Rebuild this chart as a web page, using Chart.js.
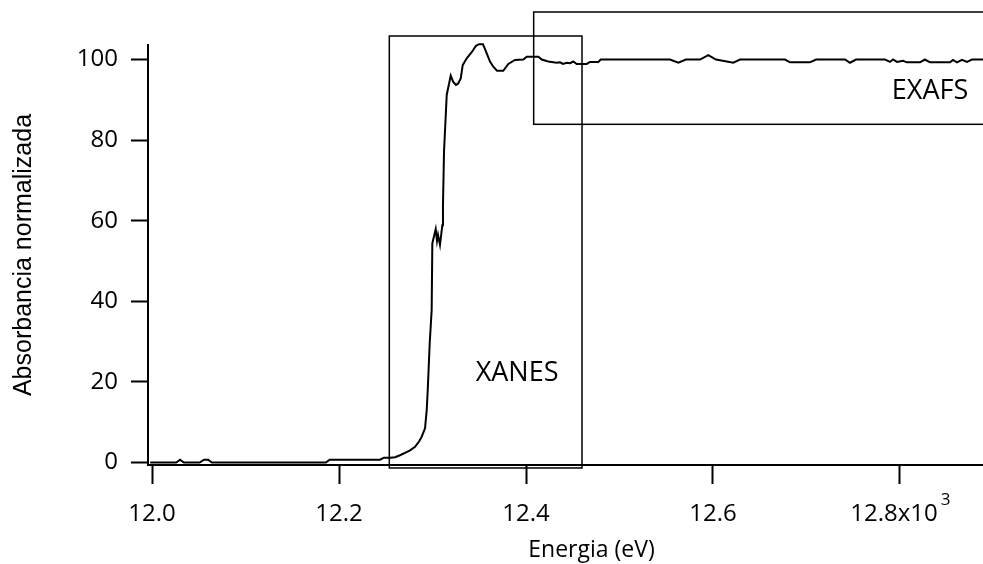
<!DOCTYPE html>
<html>
<head>
<meta charset="utf-8">
<script src="https://cdn.jsdelivr.net/npm/chart.js@4"></script>
<style>
  html, body { margin: 0; padding: 0; background: #ffffff; overflow: hidden; }
  #wrap { width: 983px; height: 564px; overflow: hidden; position: relative; }
  canvas { display: block; }
</style>
</head>
<body>
<div id="wrap"><canvas id="c" width="1035" height="564"></canvas></div>
<script>
// Energy in units of 10^3 eV
const energy = [
  11.998, 12.019, 12.026, 12.030, 12.034, 12.051, 12.0556, 12.060, 12.064, 12.186,
  12.190, 12.244, 12.248, 12.2545, 12.260, 12.2652, 12.2706, 12.276, 12.2813, 12.2856,
  12.2884, 12.292, 12.2938, 12.2949, 12.297, 12.2991, 12.2998, 12.3034, 12.3048, 12.3059,
  12.308, 12.3105, 12.3112, 12.3123, 12.3152, 12.3195, 12.322, 12.3251, 12.3273, 12.3302,
  12.3323, 12.3366, 12.3419, 12.3465, 12.3497, 12.354, 12.358, 12.3615, 12.365, 12.369,
  12.3757, 12.3811, 12.3882, 12.3971, 12.4008, 12.4132, 12.4168, 12.4238, 12.4328, 12.4364,
  12.4396, 12.4435, 12.447, 12.4506, 12.4542, 12.4649, 12.4684, 12.4773, 12.4799, 12.554,
  12.5629, 12.571, 12.5861, 12.595, 12.6032, 12.6217, 12.6289, 12.677, 12.6824, 12.7037,
  12.7102, 12.7412, 12.7465, 12.753, 12.784, 12.7893, 12.7925, 12.7968, 12.8032, 12.8075,
  12.8214, 12.8267, 12.8321, 12.8535, 12.8567, 12.861, 12.8663, 12.8717, 12.877, 12.889
];
const absorbance = [
  0, 0, 0, 0.7, 0, 0, 0.7, 0.7, 0, 0,
  0.7, 0.7, 1.2, 1.2, 1.3, 1.8, 2.4, 3.0, 3.9, 5.2,
  6.4, 8.5, 13, 18, 29.6, 37.8, 54.4, 57.9, 55, 56.5,
  54, 58.9, 64, 77.1, 91.2, 96, 94.5, 93.7, 94, 95.3,
  98.6, 100.3, 101.8, 103.4, 103.8, 103.8, 101.5, 99.5, 98.2, 97.2,
  97.2, 98.9, 99.9, 100, 100.7, 100.7, 100, 99.5, 99.2, 99.3,
  98.9, 99.2, 99.1, 99.5, 98.9, 98.9, 99.4, 99.4, 100, 100,
  99.2, 100, 100, 101.1, 100, 99.2, 100, 100, 99.3, 99.3,
  100, 100, 99.2, 100, 100, 99.4, 100, 99.4, 99.7, 99.3,
  99.3, 100, 99.3, 99.3, 99.9, 99.3, 99.9, 99.4, 100, 100
];

const xTickValues = [12.0, 12.2, 12.4, 12.6, 12.8];
const xTickLabels = ['12.0', '12.2', '12.4', '12.6', '12.8x10'];
const xTickExponent = '3';   // superscript on the last x tick label (x10^3)
const yTickValues = [0, 20, 40, 60, 80, 100];
const yTickLabels = ['0', '20', '40', '60', '80', '100'];

// Region boxes in data units: [xStart, xEnd, yBottom, yTop]
const regionNames = ['XANES', 'EXAFS'];
const regionBounds = [
  [12.2538, 12.4599, -1.36, 105.83],
  [12.4082, 12.95, 83.92, 111.79]
];
// Label anchor (center x, baseline y) in data units
const regionLabelPos = [
  [12.3904, 20.2],
  [12.8321, 90.1]
];

const xTitle = 'Energia (eV)';
const yTitle = 'Absorbancia normalizada';

const points = energy.map((e, i) => ({ x: e, y: absorbance[i] }));
const TICK_FONT = '24px "Open Sans"';
const EXP_FONT = '17px "Open Sans"';
const EXP_GAP = 3;
const EXP_PAD = '\u2002'; // room reserved after the last label for its exponent

const regionPlugin = {
  id: 'regions',
  afterDatasetsDraw(chart) {
    const ctx = chart.ctx;
    const xs = chart.scales.x, ys = chart.scales.y;
    ctx.save();
    ctx.strokeStyle = '#000';
    ctx.lineWidth = 1.5;
    regionBounds.forEach(b => {
      const x1 = xs.getPixelForValue(b[0]);
      const x2 = xs.getPixelForValue(b[1]);
      const y1 = ys.getPixelForValue(b[3]);
      const y2 = ys.getPixelForValue(b[2]);
      ctx.strokeRect(x1, y1, x2 - x1, y2 - y1);
    });
    ctx.fillStyle = '#000';
    ctx.font = '27px "Open Sans"';
    ctx.textAlign = 'center';
    ctx.textBaseline = 'alphabetic';
    regionNames.forEach((n, i) => {
      ctx.fillText(n, xs.getPixelForValue(regionLabelPos[i][0]), ys.getPixelForValue(regionLabelPos[i][1]));
    });
    ctx.restore();
  },
  afterDraw(chart) {
    // superscript exponent after the last x tick label
    const ctx = chart.ctx;
    const xs = chart.scales.x;
    const last = xTickValues.length - 1;
    const px = xs.getPixelForValue(xTickValues[last]);
    ctx.save();
    ctx.font = TICK_FONT;
    const wLabel = ctx.measureText(xTickLabels[last]).width;
    const wFull = ctx.measureText(xTickLabels[last] + EXP_PAD).width;
    const visibleRight = px - wFull / 2 + wLabel;
    ctx.font = EXP_FONT;
    ctx.fillStyle = '#000';
    ctx.textAlign = 'left';
    ctx.textBaseline = 'alphabetic';
    ctx.fillText(xTickExponent, visibleRight + EXP_GAP, xs.top + 40);
    ctx.restore();
  }
};

new Chart(document.getElementById('c'), {
  type: 'line',
  data: {
    datasets: [{
      data: points,
      borderColor: '#000',
      borderWidth: 2,
      pointRadius: 0,
      tension: 0,
      fill: false,
      clip: false
    }]
  },
  options: {
    responsive: false,
    devicePixelRatio: 1,
    animation: false,
    layout: { padding: { top: 45, left: 0, right: 0, bottom: 0 } },
    plugins: { legend: { display: false }, tooltip: { enabled: false } },
    scales: {
      x: {
        type: 'linear',
        min: 11.9957,
        max: 12.9444,
        afterFit(scale) { scale.height = 99; },
        afterBuildTicks(scale) { scale.ticks = xTickValues.map(v => ({ value: v })); },
        border: { display: true, color: '#000', width: 2 },
        grid: { display: true, drawOnChartArea: false, drawTicks: true, tickLength: 19, tickWidth: 2, tickColor: '#000' },
        ticks: {
          color: '#000',
          font: { family: '"Open Sans"', size: 24 },
          padding: 16,
          maxRotation: 0,
          autoSkip: false,
          callback: (v, i) => (i === xTickLabels.length - 1 ? xTickLabels[i] + EXP_PAD : xTickLabels[i])
        },
        title: {
          display: true,
          text: xTitle,
          color: '#000',
          font: { family: '"Open Sans"', size: 23 },
          padding: { top: 0, bottom: 0 }
        }
      },
      y: {
        type: 'linear',
        min: -0.62,
        max: 103.6,
        afterFit(scale) { scale.width = 148; },
        afterBuildTicks(scale) { scale.ticks = yTickValues.map(v => ({ value: v })); },
        border: { display: true, color: '#000', width: 2 },
        grid: { display: true, drawOnChartArea: false, drawTicks: true, tickLength: 17, tickWidth: 2, tickColor: '#000' },
        ticks: {
          color: '#000',
          font: { family: '"Open Sans"', size: 24 },
          padding: 13,
          autoSkip: false,
          callback: (v, i) => yTickLabels[i]
        },
        title: {
          display: true,
          text: yTitle,
          color: '#000',
          font: { family: '"Liberation Sans"', size: 25 },
          padding: { top: 9, bottom: 0 }
        }
      }
    }
  },
  plugins: [regionPlugin]
});
</script>
</body>
</html>
